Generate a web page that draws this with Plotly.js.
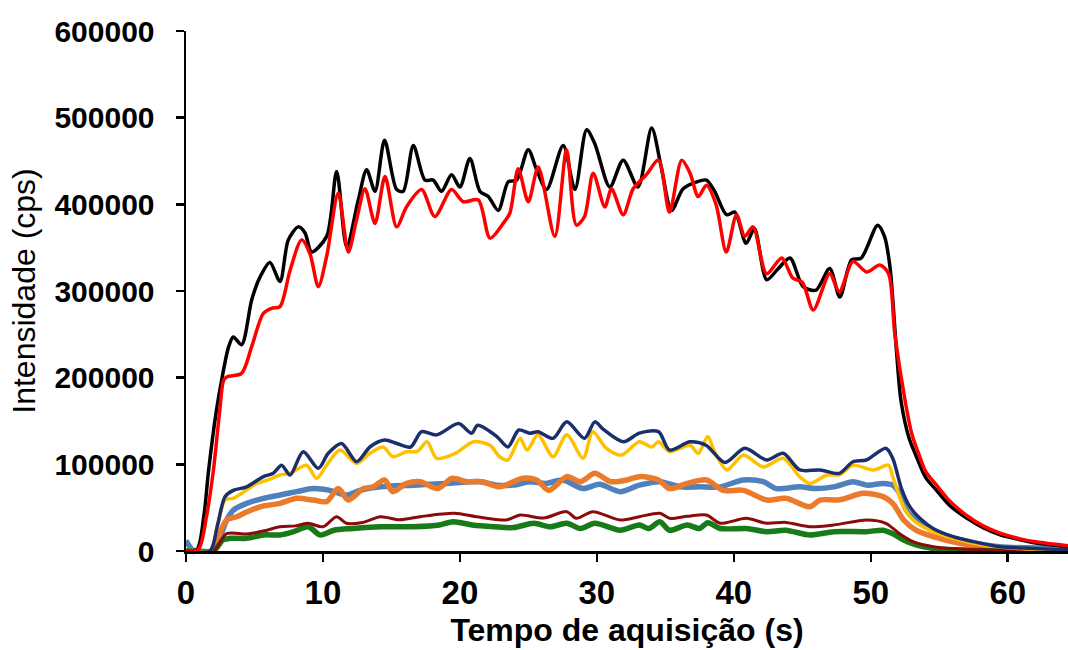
<!DOCTYPE html>
<html>
<head>
<meta charset="utf-8">
<script src="https://cdn.plot.ly/plotly-3.0.1.min.js"></script>
<style>
  html, body { margin: 0; padding: 0; background: #ffffff; }
  #chart { width: 1068px; height: 650px; }
</style>
</head>
<body>
<div id="chart"></div>
<script>
// ---- Data (time in s, intensity in cps) ----
const tBlack = [0, 0.8, 1.3, 1.65, 2.2, 2.6, 3.1, 3.45, 4.06, 4.8, 5.4, 6.13, 6.86, 7.47, 8.2, 8.69, 9.17, 10.27, 11.0, 11.73, 12.58, 13.19, 13.8, 14.5, 15.38, 15.86, 16.6, 17.45, 18.05, 18.66, 19.39, 20.0, 20.73, 21.46, 22.07, 22.8, 23.53, 24.14, 24.99, 25.6, 26.33, 27.54, 28.4, 29.25, 29.85, 30.95, 31.92, 33.0, 34.0, 34.7, 35.45, 36.3, 37.3, 38.0, 38.6, 39.47, 40.07, 40.9, 41.5, 42.4, 43.2, 44.1, 45.06, 46.0, 47.0, 47.74, 48.6, 49.3, 50.5, 51.0, 51.4, 51.87, 52.2, 52.8, 53.3, 54.0, 54.8, 55.8, 57.0, 58.2, 59.4, 60.9, 62.3, 64.4];
const vBlack = [0, 2000, 40000, 93000, 160000, 197000, 235000, 247000, 238000, 290000, 316000, 333000, 311000, 359000, 374000, 367000, 345000, 363000, 438000, 351000, 405000, 440000, 415000, 474000, 417000, 415000, 468000, 428000, 428000, 415000, 434000, 420000, 453000, 415000, 409000, 393000, 426000, 428000, 463000, 440000, 417000, 468000, 417000, 486000, 470000, 420000, 451000, 420000, 488000, 443000, 393000, 418000, 426000, 428000, 415000, 388000, 391000, 355000, 372000, 313000, 325000, 338000, 305000, 301000, 326000, 293000, 336000, 338000, 376000, 363000, 328000, 232000, 174000, 130000, 110000, 85000, 70000, 52000, 38000, 27000, 19000, 13000, 8500, 5000];

const tRed = [0, 0.9, 1.5, 2.0, 2.45, 2.75, 3.0, 4.06, 4.8, 5.64, 6.25, 6.86, 7.6, 8.44, 9.05, 9.66, 10.27, 11.12, 11.85, 12.45, 13.07, 13.8, 14.53, 15.38, 16.1, 17.2, 18.17, 19.39, 20.24, 21.34, 22.2, 23.16, 23.65, 24.26, 24.99, 25.72, 26.93, 27.79, 28.5, 29.1, 29.73, 30.58, 31.07, 31.92, 32.65, 33.6, 34.5, 35.3, 36.2, 36.8, 37.4, 38.0, 38.7, 39.45, 40.2, 40.8, 41.4, 42.4, 43.5, 44.3, 45.0, 45.8, 47.0, 47.7, 48.7, 49.7, 50.66, 51.3, 51.75, 52.5, 53.0, 53.5, 54.0, 54.8, 55.8, 57.0, 58.2, 59.4, 60.9, 62.3, 64.4];
const vRed = [0, 2000, 40000, 93000, 160000, 197000, 201000, 205000, 236000, 274000, 280000, 282000, 324000, 359000, 343000, 305000, 340000, 413000, 345000, 382000, 418000, 378000, 432000, 374000, 397000, 417000, 386000, 417000, 403000, 405000, 361000, 378000, 390000, 441000, 403000, 443000, 363000, 463000, 376000, 386000, 436000, 397000, 418000, 388000, 418000, 434000, 451000, 391000, 451000, 436000, 409000, 422000, 400000, 345000, 388000, 363000, 374000, 320000, 338000, 315000, 310000, 278000, 320000, 299000, 334000, 322000, 330000, 320000, 251000, 174000, 135000, 112000, 92000, 76000, 57000, 41000, 29000, 21000, 14000, 10000, 6000];

const tNavy = [0, 1.75, 2.3, 2.85, 3.45, 4.43, 5.65, 6.37, 6.98, 7.6, 8.56, 9.66, 10.39, 11.36, 12.46, 13.43, 14.5, 15.4, 16.4, 17.2, 18.3, 19.9, 20.85, 21.3, 22.7, 23.5, 24.3, 25.1, 25.7, 26.8, 27.8, 29.1, 29.85, 30.5, 31.93, 33.1, 34.5, 35.3, 36.8, 37.97, 39.35, 40.8, 42.4, 43.6, 44.82, 46.3, 47.7, 48.7, 49.68, 51.1, 51.6, 52.24, 52.85, 53.58, 54.55, 56.0, 57.5, 59.4, 61.85, 64.4];
const vNavy = [0, 0, 30000, 62700, 70000, 74000, 85800, 89600, 99000, 87700, 114600, 95400, 112700, 124000, 103000, 120000, 128000, 124000, 120000, 137700, 134000, 147000, 135800, 145000, 132000, 120000, 139600, 135800, 137700, 130000, 149000, 130000, 149000, 140000, 126000, 136000, 137700, 116500, 126000, 122000, 102000, 118500, 105000, 112700, 93500, 93500, 89600, 103000, 105000, 118500, 107000, 72000, 51000, 37700, 26000, 16500, 10800, 5000, 3000, 1200];

const tGold = [0, 1.75, 2.3, 2.85, 3.45, 4.2, 5.16, 6.0, 6.86, 7.6, 8.8, 9.54, 10.27, 11.24, 12.46, 13.43, 14.4, 15.1, 16.1, 16.9, 17.6, 18.3, 19.6, 21.0, 22.2, 22.9, 23.5, 24.4, 24.9, 25.7, 26.8, 27.8, 29.0, 29.7, 30.7, 31.8, 33.1, 34.0, 34.5, 35.3, 36.8, 37.4, 38.1, 38.6, 39.5, 40.7, 42.15, 43.6, 44.8, 45.55, 46.8, 47.7, 48.7, 50.2, 51.3, 51.6, 52.4, 53.1, 54.3, 56.0, 58.2, 61.8, 64.4];
const vGold = [0, 0, 28000, 58800, 60800, 68000, 78000, 82000, 87700, 89600, 99000, 83800, 99000, 116500, 101000, 112700, 120000, 108800, 114600, 115000, 126000, 107000, 112000, 126000, 122000, 108800, 105000, 130000, 116500, 134000, 108800, 134000, 107000, 137700, 118500, 110800, 126000, 120000, 126000, 114600, 122000, 112700, 132000, 114000, 93500, 110800, 97000, 107000, 85800, 78000, 87700, 88000, 99000, 93500, 99000, 85800, 51000, 35800, 24000, 14600, 7000, 2000, 1000];

const tSteel = [0, 0.5, 1.0, 1.9, 2.4, 2.97, 3.45, 4.43, 5.65, 6.86, 8.08, 9.29, 10.5, 11.7, 12.7, 14.2, 16.6, 19.0, 21.5, 22.7, 23.9, 25.1, 26.3, 27.5, 29.0, 30.2, 31.7, 33.1, 34.6, 36.1, 37.5, 39.0, 40.7, 42.15, 43.1, 44.8, 46.0, 47.3, 48.7, 49.7, 50.9, 51.6, 52.1, 52.6, 53.3, 54.55, 56.5, 59.4, 64.4];
const vSteel = [12000, 1000, 0, 0, 12700, 35800, 47000, 55000, 60800, 64600, 68500, 72000, 70000, 64600, 70000, 74000, 76000, 78000, 80000, 76000, 76000, 80000, 78000, 82000, 72000, 77000, 68500, 76000, 80000, 74000, 74000, 74000, 82000, 80000, 72000, 74000, 72000, 74000, 80000, 76000, 78000, 76000, 66500, 47000, 35800, 24000, 12700, 5000, 3000];

const tOrange = [0, 1.9, 2.24, 2.97, 3.7, 4.43, 5.4, 6.86, 8.08, 9.29, 10.27, 11.12, 11.85, 12.95, 13.67, 14.5, 15.1, 16.1, 17.1, 18.4, 19.4, 20.5, 21.6, 22.9, 24.6, 25.6, 26.5, 27.8, 28.8, 29.85, 31.0, 32.2, 33.1, 34.5, 35.3, 36.6, 38.0, 39.2, 40.7, 42.4, 43.8, 45.55, 46.3, 47.7, 49.45, 50.9, 51.6, 52.4, 53.3, 54.55, 56.5, 59.4, 64.4];
const vOrange = [0, 0, 12700, 35800, 39600, 45000, 51000, 55000, 60800, 58800, 57000, 72000, 58800, 72000, 74000, 82000, 68500, 78000, 80000, 72000, 83800, 80000, 80000, 74000, 84000, 82000, 70000, 85800, 80000, 89600, 80000, 82000, 85800, 82000, 72000, 78000, 82000, 70000, 70000, 58800, 60800, 51000, 58800, 59000, 66500, 62700, 55000, 35800, 24000, 16500, 8800, 3000, 1000];

const tMaroon = [0, 2.0, 2.97, 4.43, 5.65, 6.86, 8.0, 8.93, 10.0, 11.0, 11.7, 12.9, 14.2, 15.6, 17.1, 19.6, 21.2, 23.4, 24.4, 26.1, 27.8, 28.5, 29.7, 31.7, 33.1, 34.6, 35.3, 36.6, 38.0, 39.0, 40.9, 42.4, 43.8, 45.55, 47.3, 49.7, 51.1, 52.1, 53.1, 54.55, 57.0, 64.4];
const vMaroon = [0, 0, 20000, 19600, 23000, 28000, 29000, 32000, 28000, 39600, 32000, 33000, 39600, 36000, 39600, 43500, 39600, 35800, 41500, 38000, 45400, 37700, 45400, 35800, 39600, 43500, 37700, 40000, 41500, 32000, 37700, 32000, 33000, 28000, 30000, 35800, 32000, 20000, 10800, 5000, 2000, 500];

const tGreen = [0, 2.0, 2.7, 3.2, 4.43, 5.65, 6.86, 7.85, 8.93, 9.8, 10.8, 12.2, 14.2, 16.6, 18.5, 19.5, 20.9, 22.5, 23.9, 25.4, 26.6, 27.8, 28.8, 29.85, 31.7, 33.1, 33.8, 34.6, 35.3, 36.6, 37.5, 38.1, 39.0, 40.9, 42.4, 43.8, 45.55, 47.3, 49.7, 50.9, 51.6, 52.4, 53.3, 54.55, 57.0, 64.4];
const vGreen = [0, 0, 12700, 14600, 14600, 18500, 18500, 22300, 28000, 18500, 24000, 26000, 28000, 28000, 30000, 33800, 30000, 28000, 27000, 32000, 28000, 32000, 26000, 32000, 24000, 30000, 26000, 33800, 24000, 30000, 26000, 32700, 26000, 26000, 22300, 24000, 18500, 22300, 22300, 24000, 20000, 12700, 7000, 3000, 1000, 0];

const seriesList = [
  {x: tSteel,  y: vSteel,  color: '#4F81BD', width: 5.5},
  {x: tOrange, y: vOrange, color: '#EB7A2A', width: 5.5},
  {x: tGreen,  y: vGreen,  color: '#187A18', width: 5.5},
  {x: tMaroon, y: vMaroon, color: '#8B0A0A', width: 3},
  {x: tGold,   y: vGold,   color: '#FFC000', width: 3.5},
  {x: tNavy,   y: vNavy,   color: '#1B2F6B', width: 3.5},
  {x: tBlack,  y: vBlack,  color: '#000000', width: 3.5},
  {x: tRed,    y: vRed,    color: '#FF0000', width: 3.5}
];

const traces = seriesList.map(s => ({
  type: 'scatter', mode: 'lines', x: s.x, y: s.y,
  line: {color: s.color, width: s.width, shape: 'spline', smoothing: 0.8},
  hoverinfo: 'skip', showlegend: false, cliponaxis: true
}));

const fontFam = 'Liberation Sans, Arial, sans-serif';
const layout = {
  width: 1068, height: 650,
  margin: {l: 186, r: 0, t: 31, b: 99, pad: 0},
  paper_bgcolor: '#ffffff', plot_bgcolor: '#ffffff',
  showlegend: false,
  xaxis: {
    range: [0, 64.4], dtick: 10, tick0: 0,
    showgrid: false, zeroline: false,
    showline: true, linecolor: '#000', linewidth: 2.5,
    ticks: 'outside', ticklen: 8, tickwidth: 2.5, tickcolor: '#000',
    ticklabelstandoff: 3,
    tickfont: {family: fontFam, size: 33, color: '#000', weight: 700},
    title: {text: 'Tempo de aquisição (s)', standoff: 9,
            font: {family: fontFam, size: 32, color: '#000', weight: 700}},
    automargin: false
  },
  yaxis: {
    range: [0, 600000], dtick: 100000, tick0: 0, tickformat: 'd',
    showgrid: false, zeroline: false,
    showline: true, linecolor: '#000', linewidth: 2.5,
    ticks: 'outside', ticklen: 8, tickwidth: 2.5, tickcolor: '#000',
    ticklabelstandoff: 15,
    tickfont: {family: fontFam, size: 30, color: '#000', weight: 700},
    title: {text: 'Intensidade (cps)', standoff: 9,
            font: {family: fontFam, size: 32, color: '#000'}},
    automargin: false
  }
};

Plotly.newPlot('chart', traces, layout, {staticPlot: true, displayModeBar: false});
</script>
</body>
</html>
